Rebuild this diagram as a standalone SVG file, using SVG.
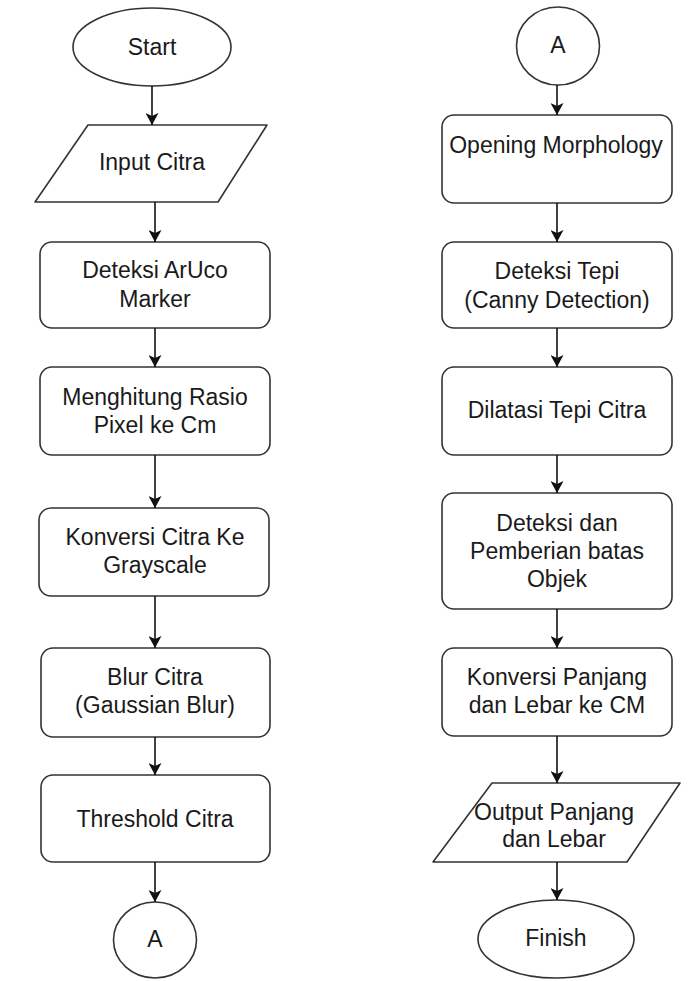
<svg xmlns="http://www.w3.org/2000/svg" width="698" height="981" viewBox="0 0 698 981">
  <defs>
    <marker id="arrow" markerUnits="userSpaceOnUse" markerWidth="13" markerHeight="13" refX="12" refY="6.5" orient="auto">
      <path d="M0,0 L12,6.5 L0,13 L3,6.5 z" fill="#111"/>
    </marker>
    <style>
      .shape { fill: #ffffff; stroke: #333333; stroke-width: 1.6; stroke-linejoin: round; }
      .label { font-family: "Liberation Sans", Arial, sans-serif; font-size: 23px; fill: #1a1a1a; text-anchor: middle; }
      .edge { fill: none; stroke: #111; stroke-width: 1.6; marker-end: url(#arrow); }
    </style>
  </defs>
  <rect width="698" height="981" fill="#ffffff"/>

  <!-- left column -->
  <g id="start">
    <ellipse class="shape" cx="152" cy="47" rx="79" ry="39"/>
    <text class="label" x="152" y="55">Start</text>
  </g>
  <g id="input-citra">
    <path class="shape" d="M88,125 L267,125 L218,202 L35,202 Z"/>
    <text class="label" x="152" y="170">Input Citra</text>
  </g>
  <g id="deteksi-aruco">
    <rect class="shape" x="40" y="242" width="230" height="86" rx="12"/>
    <text class="label" x="155" y="278">Deteksi ArUco</text>
    <text class="label" x="155" y="307">Marker</text>
  </g>
  <g id="rasio-pixel">
    <rect class="shape" x="40" y="367" width="230" height="88" rx="12"/>
    <text class="label" x="155" y="405">Menghitung Rasio</text>
    <text class="label" x="155" y="433">Pixel ke Cm</text>
  </g>
  <g id="grayscale">
    <rect class="shape" x="39" y="508" width="230" height="88" rx="12"/>
    <text class="label" x="155" y="545">Konversi Citra Ke</text>
    <text class="label" x="155" y="573">Grayscale</text>
  </g>
  <g id="blur">
    <rect class="shape" x="41" y="648" width="229" height="89" rx="12"/>
    <text class="label" x="155" y="685">Blur Citra</text>
    <text class="label" x="155" y="713">(Gaussian Blur)</text>
  </g>
  <g id="threshold">
    <rect class="shape" x="41" y="775" width="229" height="87" rx="12"/>
    <text class="label" x="155" y="827">Threshold Citra</text>
  </g>
  <g id="connector-a-out">
    <ellipse class="shape" cx="155" cy="940" rx="41.5" ry="38"/>
    <text class="label" x="155" y="947">A</text>
  </g>

  <!-- right column -->
  <g id="connector-a-in">
    <ellipse class="shape" cx="558" cy="46" rx="41.5" ry="39"/>
    <text class="label" x="558" y="53">A</text>
  </g>
  <g id="opening">
    <rect class="shape" x="442" y="115" width="230" height="88" rx="12"/>
    <text class="label" x="556" y="153">Opening Morphology</text>
  </g>
  <g id="deteksi-tepi">
    <rect class="shape" x="442" y="242" width="230" height="86" rx="12"/>
    <text class="label" x="557" y="279">Deteksi Tepi</text>
    <text class="label" x="557" y="308">(Canny Detection)</text>
  </g>
  <g id="dilatasi">
    <rect class="shape" x="442" y="367" width="230" height="88" rx="12"/>
    <text class="label" x="557" y="418">Dilatasi Tepi Citra</text>
  </g>
  <g id="batas-objek">
    <rect class="shape" x="442" y="493" width="230" height="116" rx="12"/>
    <text class="label" x="557" y="531">Deteksi dan</text>
    <text class="label" x="557" y="559">Pemberian batas</text>
    <text class="label" x="557" y="587">Objek</text>
  </g>
  <g id="konversi-cm">
    <rect class="shape" x="442" y="648" width="230" height="88" rx="12"/>
    <text class="label" x="557" y="685">Konversi Panjang</text>
    <text class="label" x="557" y="713">dan Lebar ke CM</text>
  </g>
  <g id="output">
    <path class="shape" d="M492,783 L680,783 L627,862 L433,862 Z"/>
    <text class="label" x="554" y="820">Output Panjang</text>
    <text class="label" x="554" y="847">dan Lebar</text>
  </g>
  <g id="finish">
    <ellipse class="shape" cx="556" cy="939" rx="78" ry="39"/>
    <text class="label" x="556" y="946">Finish</text>
  </g>

  <!-- connectors -->
  <g id="connectors">
    <line class="edge" x1="152" y1="86" x2="152" y2="125"/>
    <line class="edge" x1="155" y1="202" x2="155" y2="242"/>
    <line class="edge" x1="155" y1="328" x2="155" y2="367"/>
    <line class="edge" x1="155" y1="455" x2="155" y2="508"/>
    <line class="edge" x1="155" y1="596" x2="155" y2="648"/>
    <line class="edge" x1="155" y1="737" x2="155" y2="775"/>
    <line class="edge" x1="155" y1="862" x2="155" y2="902"/>

    <line class="edge" x1="557" y1="85" x2="557" y2="115"/>
    <line class="edge" x1="557" y1="203" x2="557" y2="242"/>
    <line class="edge" x1="557" y1="328" x2="557" y2="367"/>
    <line class="edge" x1="557" y1="455" x2="557" y2="493"/>
    <line class="edge" x1="557" y1="609" x2="557" y2="648"/>
    <line class="edge" x1="557" y1="736" x2="557" y2="783"/>
    <line class="edge" x1="557" y1="862" x2="557" y2="900"/>
  </g>
</svg>
